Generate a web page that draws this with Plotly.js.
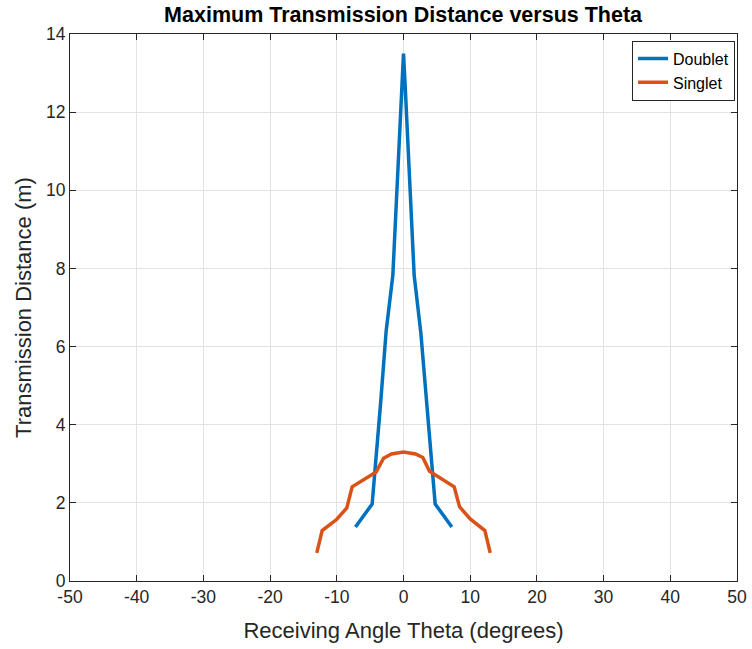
<!DOCTYPE html>
<html>
<head>
<meta charset="utf-8">
<script src="https://cdn.plot.ly/plotly-3.0.1.min.js"></script>
<style>html,body{margin:0;padding:0;background:#fff;}#chart{width:752px;height:649px;}</style>
</head>
<body>
<div id="chart"></div>
<script>
const doubletTheta = [-7.2, -4.7, -3.4, -2.6, -1.6, -0.3, 0, 0.3, 1.6, 2.6, 3.4, 4.75, 7.25];
const doubletDist  = [1.38, 1.97, 4.62, 6.4, 7.82, 12.5, 13.5, 12.5, 7.82, 6.35, 4.62, 1.97, 1.38];
const singletTheta = [-13, -12.2, -10, -8.5, -7.7, -4.1, -3, -1.8, 0, 1.8, 2.9, 3.9, 7.6, 8.4, 10, 12.2, 13];
const singletDist  = [0.72, 1.29, 1.58, 1.87, 2.41, 2.79, 3.14, 3.25, 3.30, 3.25, 3.16, 2.81, 2.41, 1.9, 1.59, 1.29, 0.72];
const xTicks = [-50, -40, -30, -20, -10, 0, 10, 20, 30, 40, 50];
const yTicks = [0, 2, 4, 6, 8, 10, 12, 14];

const FONT = 'Liberation Sans, Arial, sans-serif';
const axisCommon = {
  showline: true, linecolor: '#262626', linewidth: 1, mirror: 'ticks',
  ticks: 'inside', ticklen: 6, tickcolor: '#262626', tickwidth: 1,
  showgrid: true, gridcolor: '#e3e3e3', gridwidth: 1, zeroline: false,
  tickfont: {family: FONT, size: 17.5, color: '#262626'}
};

const traces = [
  {x: doubletTheta, y: doubletDist, type: 'scatter', mode: 'lines', name: 'Doublet',
   line: {color: '#0072BD', width: 3.5}},
  {x: singletTheta, y: singletDist, type: 'scatter', mode: 'lines', name: 'Singlet',
   line: {color: '#D95319', width: 3.5}}
];

const layout = {
  width: 752, height: 649,
  margin: {l: 70, r: 15, t: 34, b: 68},
  paper_bgcolor: '#ffffff', plot_bgcolor: '#ffffff',
  font: {family: FONT, color: '#262626'},
  title: {text: '<b>Maximum Transmission Distance versus Theta</b>', x: 0.536, xanchor: 'center', y: 0.977, yanchor: 'middle',
          font: {family: FONT, size: 21.5, color: '#000'}},
  xaxis: Object.assign({}, axisCommon, {
    range: [-50, 50], tickvals: xTicks, ticktext: xTicks.map(String),
    title: {text: 'Receiving Angle Theta (degrees)', standoff: 16,
            font: {family: FONT, size: 22, color: '#262626'}}
  }),
  yaxis: Object.assign({}, axisCommon, {
    range: [0, 14], tickvals: yTicks, ticktext: yTicks.map(String),
    title: {text: 'Transmission Distance (m)', standoff: 8,
            font: {family: FONT, size: 22, color: '#262626'}}
  }),
  showlegend: true,
  legend: {x: 0.997, xanchor: 'right', y: 0.988, yanchor: 'top',
           bordercolor: '#262626', borderwidth: 1, bgcolor: '#ffffff',
           font: {family: FONT, size: 16, color: '#000'},
           tracegroupgap: 0}
};

Plotly.newPlot('chart', traces, layout, {displayModeBar: false, staticPlot: true});
</script>
</body>
</html>
